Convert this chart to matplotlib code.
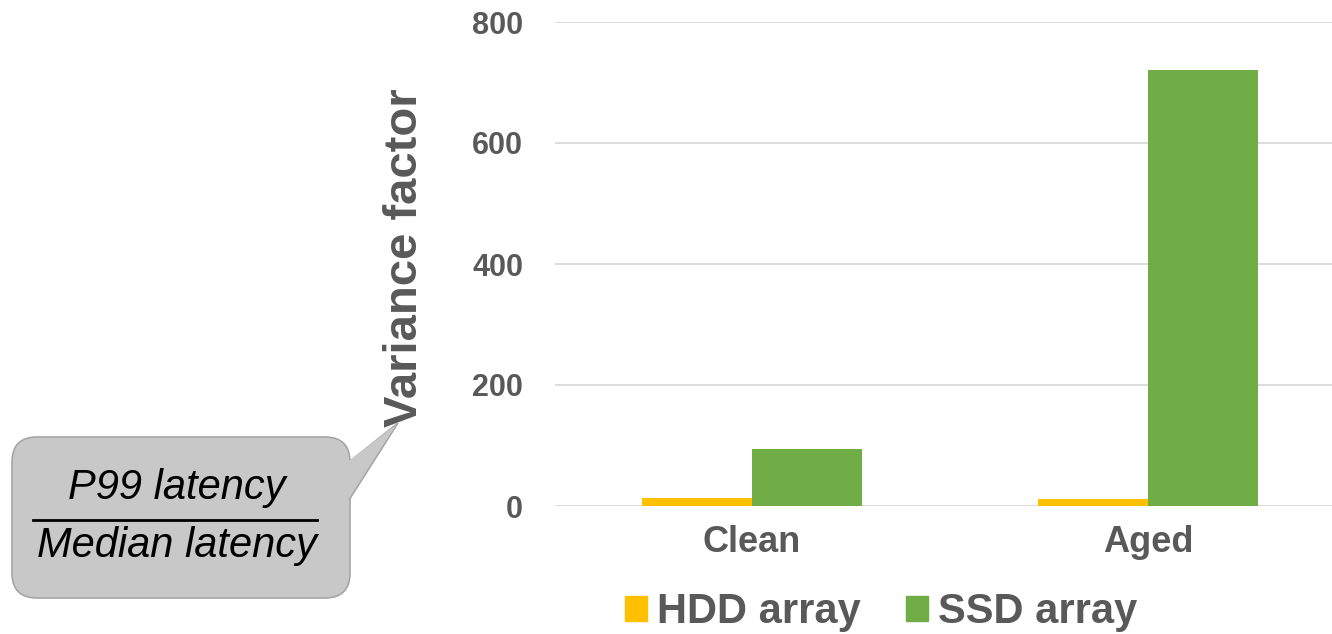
import matplotlib
matplotlib.use('Agg')
import matplotlib.pyplot as plt
from matplotlib.patches import FancyBboxPatch, Polygon, Patch
import numpy as np

plt.rcParams['font.family'] = ['Liberation Sans', 'DejaVu Sans']

categories = ['Clean', 'Aged']
hdd_values = [13, 12]
ssd_values = [94, 720]
series_names = ['HDD array', 'SSD array']
yticks = [0, 200, 400, 600, 800]

hdd_color = '#FFC000'
ssd_color = '#70AD47'
text_color = '#595959'
grid_color = '#D9D9D9'

W, H = 1332, 634
fig = plt.figure(figsize=(W / 100, H / 100), dpi=100)

# main axes, right edge runs off the figure like the original
ax = fig.add_axes([555 / W, (H - 506) / H, 777 / W, (506 - 22) / H])
x = np.arange(len(categories))
bw = 0.278
ax.bar(x - bw / 2, hdd_values, bw, color=hdd_color, label=series_names[0])
ax.bar(x + bw / 2, ssd_values, bw, color=ssd_color, label=series_names[1])
ax.set_xlim(-0.497, 1.465)
ax.set_ylim(0, 800)
ax.set_yticks(yticks)
ax.yaxis.grid(True, color=grid_color, linewidth=1.3)
ax.set_axisbelow(True)
for s in ax.spines.values():
    s.set_visible(False)
ax.tick_params(length=0)
ax.tick_params(axis='y', pad=23, labelsize=22, labelcolor=text_color)
ax.tick_params(axis='x', pad=14, labelsize=26, labelcolor=text_color)
ax.set_xticks(x)
ax.set_xticklabels(categories, fontweight='bold')
for t in ax.get_yticklabels():
    t.set_fontweight('bold')
ax.set_ylabel('Variance factor', fontsize=34, fontweight='bold', color=text_color)
ax.yaxis.set_label_coords(-0.165, 0.513)

# legend
handles = [Patch(color=hdd_color), Patch(color=ssd_color)]
leg = fig.legend(handles, series_names, loc='center', bbox_to_anchor=(881 / W, 1 - 612 / H),
                 ncol=2, frameon=False, handlelength=0.53, handleheight=0.53,
                 handletextpad=0.24, columnspacing=1.08,
                 prop={'size': 30, 'weight': 'bold'})
for t in leg.get_texts():
    t.set_color(text_color)

# callout overlay in pixel coords
ov = fig.add_axes([0, 0, 1, 1])
ov.set_xlim(0, W)
ov.set_ylim(H, 0)
ov.axis('off')
ov.patch.set_alpha(0)
box = FancyBboxPatch((12 + 25, 437 + 25), 338 - 50, 161 - 50,
                     boxstyle='round,pad=25', fc='#C8C8C8', ec='#A6A6A6', lw=1.2)
ov.add_patch(box)
tail = Polygon([(349, 462), (398, 423), (349, 500)], closed=False,
               fc='#C8C8C8', ec='#A6A6A6', lw=1.2)
ov.add_patch(tail)
ov.add_patch(Polygon([(346, 463), (397, 424), (346, 499)], fc='#C8C8C8', ec='none'))
ov.text(177, 488, 'P99 latency', fontsize=30, style='italic', ha='center', va='center')
ov.plot([33, 317], [520, 520], color='black', lw=2)
ov.text(177, 546, 'Median latency', fontsize=30, style='italic', ha='center', va='center')

fig.savefig('out.png', dpi=100)
